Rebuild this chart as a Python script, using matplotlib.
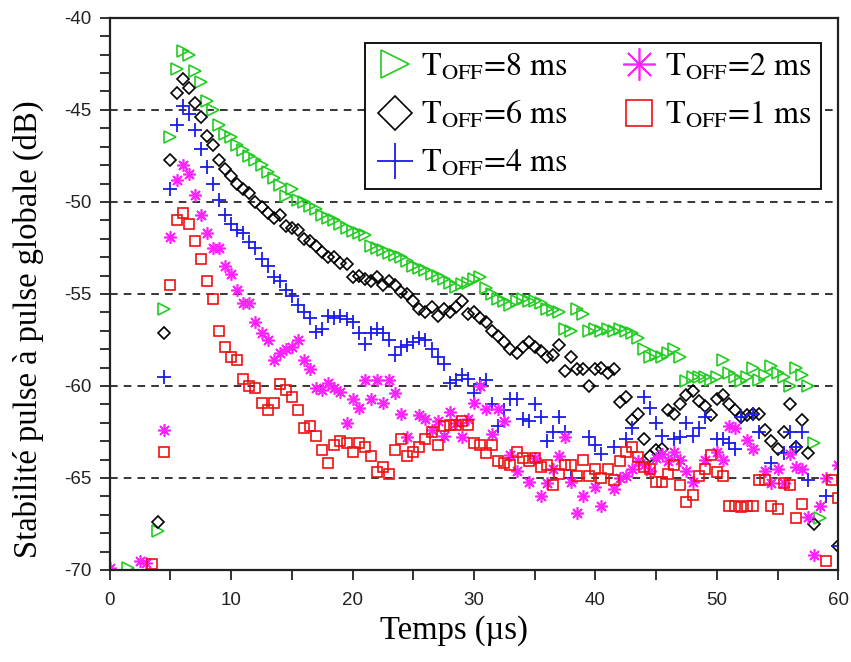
import numpy as np
import matplotlib
matplotlib.use("Agg")
import matplotlib.pyplot as plt
from matplotlib.ticker import MultipleLocator

plt.rcParams["mathtext.fontset"] = "stix"
plt.rcParams["axes.unicode_minus"] = False

# temps (µs), pas de 0.5 µs
x = np.arange(0, 60.01, 0.5)
nan = np.nan

t8 = [nan, nan, nan, -69.9, nan, nan, nan, nan, -67.9, -55.8,
      -46.5, -42.8, -41.8, -42.0, -42.9, -43.5, -44.5, -45.0, -45.8, -46.3,
      -46.5, -46.9, -47.2, -47.5, -47.7, -48.0, -48.4, -48.7, -49.1, -49.7,
      -49.3, -49.9, -50.0, -50.2, -50.4, -50.7, -50.9, -51.0, -51.2, -51.4,
      -51.6, -51.7, -51.8, -52.4, -52.5, -52.6, -52.8, -52.9, -53.0, -53.2,
      -53.5, -53.6, -53.7, -53.9, -54.0, -54.2, -54.4, -54.6, -54.45, -54.4,
      -54.2, -54.1, -54.7, -55.0, -55.3, -55.4, -55.6, -55.4, -55.3, -55.4,
      -55.4, -55.5, -55.8, -55.9, -56.0, -56.9, -57.0, -55.8, -56.1, -57.0,
      -56.9, -57.0, -56.9, -57.0, -56.9, -57.0, -57.1, -57.4, -58.0, -58.4,
      -58.3, -58.4, -58.2, -58.0, -58.4, -59.75, -59.5, -59.5, -59.5, -59.7,
      -59.5, -58.6, -59.3, -59.5, -59.75, -59.5, -59.05, -59.7, -59.4, -58.9,
      -59.3, -59.5, -60.0, -59.05, -59.4, -60.0, -63.1, -67.2, nan, nan,
      nan]

t6 = [nan, nan, nan, nan, nan, nan, nan, nan, -67.4, -57.1,
      -47.7, -44.1, -43.3, -43.8, -44.6, -45.4, -46.4, -46.9, -47.7, -48.2,
      -48.6, -49.0, -49.3, -49.5, -50.0, -50.3, -50.6, -50.9, -50.7, -51.3,
      -51.4, -51.5, -52.0, -52.1, -52.4, -52.7, -53.0, -53.0, -53.3, -53.4,
      -54.1, -54.0, -54.2, -54.3, -54.1, -54.5, -54.3, -54.5, -54.9, -55.0,
      -55.4, -55.8, -56.0, -55.7, -56.2, -55.8, -56.0, -55.7, -55.4, -56.1,
      -56.0, -56.3, -56.5, -57.0, -57.3, -57.6, -58.0, -58.2, -57.9, -57.6,
      -57.9, -58.1, -58.4, -58.3, -57.8, -59.2, -58.4, -59.1, -59.1, -60.0,
      -59.1, -59.0, -59.3, -59.1, -60.85, -60.6, -61.85, -61.5, -62.9, -63.8,
      -63.5, -63.4, -61.3, -61.5, -61.0, -60.5, -60.3, -60.8, -61.1, -61.6,
      -60.7, -60.5, -61.0, -61.3, -61.7, -61.6, -61.5, -61.5, -62.4, -63.0,
      -63.4, -62.5, -61.0, -63.3, -61.85, -63.65, -67.5, nan, nan, nan,
      -68.7]

t4 = [nan, nan, nan, nan, nan, nan, nan, nan, nan, -59.5,
      -49.3, -45.8, -44.8, -45.2, -46.1, -47.1, -48.1, -49.0, -49.9, -50.7,
      -51.2, -51.5, -51.7, -52.2, -52.5, -53.1, -53.5, -54.1, -54.3, -54.8,
      -55.1, -55.6, -56.0, -56.3, -57.05, -56.9, -56.2, -56.3, -56.2, -56.35,
      -56.5, -57.1, -57.7, -57.1, -56.9, -57.1, -57.5, -58.3, -57.9, -57.8,
      -57.6, -57.4, -57.5, -58.0, -58.4, -58.8, -59.85, -59.7, -59.4, -59.6,
      -60.4, -59.9, -59.7, -61.0, -62.2, -61.3, -60.7, -60.7, -61.8, -61.9,
      -61.0, -61.7, -63.0, -62.5, -61.7, -62.5, -65.0, nan, nan, -62.75,
      -63.2, -63.7, nan, -63.3, nan, -62.9, -62.3, nan, -60.6, -61.2,
      -62.0, -62.7, nan, -62.9, -62.8, -62.0, -62.7, -62.3, -61.7, nan,
      -62.9, -62.9, -63.1, -63.4, -61.7, nan, -61.5, -62.5, nan, -64.2,
      nan, -63.65, -62.5, -63.3, -62.5, -65.1, nan, nan, -66.0, nan,
      -68.7]

t2 = [-69.9, nan, nan, nan, nan, -69.5, -69.6, nan, nan, -62.4,
      -51.9, -48.8, -48.0, -48.5, -49.6, -50.7, -51.7, -52.5, -52.5, -53.5,
      -53.9, -54.8, -55.5, -55.5, -56.5, -57.1, -57.5, -58.6, -58.2, -58.0,
      -57.9, -57.5, -58.6, -59.1, -60.1, -60.2, -59.85, -60.1, -60.35, -62.0,
      -60.7, -61.2, -59.7, -60.7, -59.7, -60.9, -59.7, -60.4, -61.5, -62.8,
      nan, -61.6, -61.8, -62.4, -61.9, -62.7, -61.4, -62.0, -62.8, -61.8,
      -60.9, -60.0, -61.25, -62.6, -61.25, -61.9, -63.75, -64.6, nan, -65.2,
      -63.9, -66.0, -65.3, -64.5, -63.8, -62.8, -65.2, -66.9, -66.0, nan,
      -65.5, -66.5, nan, -65.6, -65.0, -64.9, -64.5, -64.1, -64.3, -64.6,
      -63.9, -63.7, -64.1, -63.6, -64.0, -64.6, -65.2, nan, -64.0, nan,
      -63.6, -64.0, -62.2, -62.3, nan, -62.95, -63.4, nan, -64.6, -65.3,
      -64.5, -65.3, -63.7, -64.4, -64.5, -67.1, -69.2, -66.5, -65.0, nan,
      -64.3]

t1 = [nan, nan, nan, nan, nan, nan, nan, -69.7, nan, -63.6,
      -54.5, -51.0, -50.6, -51.2, -52.1, -53.1, -54.3, -55.3, -57.0, -57.9,
      -58.4, -58.6, -59.6, -60.0, -60.1, -60.9, -61.3, -60.9, -59.9, -60.2,
      -60.6, -61.3, -62.3, -62.2, -62.7, -63.5, -64.2, -63.2, -63.0, -63.1,
      -63.6, -63.1, -63.3, -63.8, -64.7, -64.4, -64.8, -63.5, -62.9, -63.8,
      -63.6, -63.3, -62.9, -62.5, -63.2, -62.2, -62.1, -62.1, -61.9, -62.1,
      -63.1, -63.2, -63.65, -63.2, -64.1, -64.2, -64.3, -63.6, -63.9, -64.1,
      -63.9, -64.4, -64.3, -65.4, -64.8, -64.3, -64.3, -64.9, -64.0, -64.9,
      -64.5, -65.0, -64.5, -65.1, -64.1, -63.6, -63.3, -63.85, -64.4, -64.5,
      -65.2, -65.2, -64.8, -64.3, -65.4, -66.3, -65.9, -64.9, -64.5, -63.75,
      -64.7, -64.9, -66.55, -66.55, -66.6, -66.55, -66.5, -65.1, -65.1, -66.55,
      -66.7, -65.3, -65.4, -67.2, -66.4, nan, nan, nan, -69.5, -65.1,
      -66.1]

fig = plt.figure(figsize=(8.51, 6.62), dpi=100)
ax = fig.add_axes([0.129, 0.139, 0.856, 0.834])

ax.plot(x, t8, ">", ms=8, mfc="none", mec="#22cc22", mew=1.2,
        label=r"T$_{\mathrm{OFF}}$=8 ms")
ax.plot(x, t6, "D", ms=6.5, mfc="none", mec="black", mew=1.2,
        label=r"T$_{\mathrm{OFF}}$=6 ms")
ax.plot(x, t4, "+", ms=10, mec="#1a1aee", mew=1.3,
        label=r"T$_{\mathrm{OFF}}$=4 ms")
ax.plot(x, t2, marker=(8, 2, 0), ls="none", ms=9, mec="#ff22ff", mew=1.2,
        label=r"T$_{\mathrm{OFF}}$=2 ms")
ax.plot(x, t1, "s", ms=7, mfc="none", mec="#ee1111", mew=1.2,
        label=r"T$_{\mathrm{OFF}}$=1 ms")

for yv in [-45, -50, -55, -60, -65]:
    ax.axhline(yv, color="black", ls=(0, (5, 4)), lw=1.1, zorder=0)

ax.set_xlim(0, 60)
ax.set_ylim(-70, -40)
ax.xaxis.set_major_locator(MultipleLocator(10))
ax.xaxis.set_minor_locator(MultipleLocator(5))
ax.yaxis.set_major_locator(MultipleLocator(5))
ax.yaxis.set_minor_locator(MultipleLocator(1))
ax.tick_params(which="both", direction="out", length=7, width=1.3, colors="#222222",
               labelsize=13.5, top=False, right=False)
ax.tick_params(axis="x", pad=9)
ax.tick_params(axis="y", pad=6)
for lab in ax.get_xticklabels() + ax.get_yticklabels():
    lab.set_family("Liberation Sans")
for s in ax.spines.values():
    s.set_linewidth(1.6)
    s.set_color("#222222")

serif = "Liberation Serif"
ax.set_xlabel("Temps (µs)", family=serif, fontsize=23.5)
ax.set_ylabel("Stabilité pulse à pulse globale (dB)", family=serif, fontsize=23.5)
ax.xaxis.set_label_coords(0.4725, -0.082)
ax.yaxis.set_label_coords(-0.09, 0.436)

leg = ax.legend(ncol=2, loc="upper right", bbox_to_anchor=(0.998, 0.984),
                prop={"family": "STIXGeneral", "size": 23}, markerscale=2.6,
                handlelength=1.3, handletextpad=0.15, columnspacing=1.6,
                labelspacing=0.55, borderpad=0.3, frameon=True, fancybox=False,
                framealpha=1)
leg.get_frame().set_edgecolor("black")
leg.get_frame().set_linewidth(1.3)

fig.savefig("out.png", dpi=100, facecolor="white")
